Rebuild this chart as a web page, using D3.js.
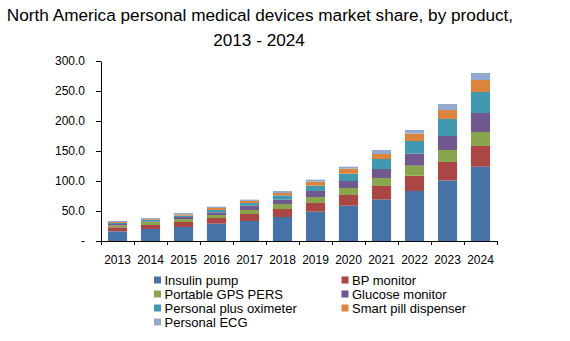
<!DOCTYPE html>
<html>
<head>
<meta charset="utf-8">
<script src="https://cdn.jsdelivr.net/npm/d3@7"></script>
<style>
  body { margin: 0; background: #fff; }
  svg { display: block; font-family: "Liberation Sans", Arial, sans-serif; }
</style>
</head>
<body>
<div id="chart"></div>
<script>
// Data
const years = ["2013", "2014", "2015", "2016", "2017", "2018", "2019", "2020", "2021", "2022", "2023", "2024"];
const products = ["Insulin pump", "BP monitor", "Portable GPS PERS", "Glucose monitor",
  "Personal plus oximeter", "Smart pill dispenser", "Personal ECG"];
const insulinPump = [16.1, 20.0, 23.3, 28.9, 33.3, 40.0, 48.9, 58.9, 69.4, 83.3, 101.1, 123.9];
const bpMonitor = [6.7, 6.7, 8.4, 9.4, 11.7, 13.3, 14.4, 17.8, 22.3, 25.6, 30.6, 34.4];
const gpsPers = [3.3, 5.0, 5.0, 5.0, 6.7, 8.4, 10.0, 11.6, 13.3, 16.7, 20.0, 23.4];
const glucoseMonitor = [2.2, 1.1, 3.3, 4.5, 7.2, 7.2, 10.0, 11.7, 15.0, 20.0, 23.3, 31.6];
const oximeter = [1.7, 2.7, 2.2, 3.9, 4.4, 7.2, 8.9, 12.2, 16.7, 21.1, 28.3, 35.0];
const pillDispenser = [1.7, 1.1, 2.2, 3.3, 3.4, 3.9, 6.7, 8.4, 8.3, 12.2, 15.0, 20.0];
const personalEcg = [1.6, 1.7, 2.3, 2.2, 2.2, 3.3, 3.3, 3.3, 6.7, 6.1, 10.0, 11.7];
const yTicks = [0, 50, 100, 150, 200, 250, 300];
const colors = ["#4572A7", "#AA4643", "#89A54E", "#71588F", "#4198AF", "#DB843D", "#93A9CF"];

const series = [insulinPump, bpMonitor, gpsPers, glucoseMonitor, oximeter, pillDispenser, personalEcg];
const rows = years.map((yr, i) => {
  const r = { year: yr };
  products.forEach((p, k) => { r[p] = series[k][i]; });
  return r;
});

const width = 570, height = 341;
const plot = { left: 101, right: 497, top: 61, bottom: 241 };

const svg = d3.select("#chart").append("svg")
  .attr("width", width)
  .attr("height", height);

// Title
const title = svg.append("text")
  .attr("text-anchor", "middle")
  .attr("font-size", "17.2px")
  .attr("fill", "#000");
title.append("tspan").attr("x", 260).attr("y", 21)
  .text("North America personal medical devices market share, by product,");
title.append("tspan").attr("x", 259).attr("y", 46).text("2013 - 2024");

// Scales
const x = d3.scaleBand()
  .domain(years)
  .range([plot.left, plot.right])
  .paddingInner(0.42)
  .paddingOuter(0.21);

const y = d3.scaleLinear()
  .domain([0, 300])
  .range([plot.bottom, plot.top]);

const color = d3.scaleOrdinal().domain(products).range(colors);

// Bars
const stacked = d3.stack().keys(products)(rows);
svg.append("g")
  .selectAll("g")
  .data(stacked)
  .join("g")
  .attr("fill", d => color(d.key))
  .selectAll("rect")
  .data(d => d)
  .join("rect")
  .attr("x", d => x(d.data.year))
  .attr("width", x.bandwidth())
  .attr("y", d => y(d[1]))
  .attr("height", d => y(d[0]) - y(d[1]));

// Y axis
const yAxis = svg.append("g")
  .attr("transform", `translate(${plot.left},0)`)
  .call(d3.axisLeft(y)
    .tickValues(yTicks)
    .tickSize(5)
    .tickSizeOuter(0)
    .tickPadding(11)
    .tickFormat(d => d === 0 ? "-" : d3.format(".1f")(d)));
yAxis.selectAll("text").attr("font-size", "12px").attr("fill", "#000")
  .attr("font-family", "Liberation Sans, Arial, sans-serif");
yAxis.selectAll("line, path").attr("stroke", "#000");

// X axis: labels under each band, ticks at band boundaries
const xAxis = svg.append("g")
  .attr("transform", `translate(0,${plot.bottom})`)
  .call(d3.axisBottom(x).tickSize(0).tickPadding(14).tickSizeOuter(0));
xAxis.selectAll("text").attr("font-size", "12px").attr("fill", "#000")
  .attr("font-family", "Liberation Sans, Arial, sans-serif");
xAxis.select("path").attr("stroke", "#000");

const edge = d3.scaleLinear().domain([0, years.length]).range([plot.left, plot.right]);
svg.append("g")
  .attr("transform", `translate(0,${plot.bottom})`)
  .call(d3.axisBottom(edge).ticks(years.length).tickSize(4).tickSizeOuter(0).tickFormat(""))
  .call(g => g.select("path").remove())
  .selectAll("line").attr("stroke", "#000");

// Legend
const legend = svg.append("g").attr("font-size", "13px");
products.forEach((p, i) => {
  const col = i % 2, row = Math.floor(i / 2);
  const gx = col === 0 ? 154 : 341.5;
  const gy = 280 + row * 14;
  legend.append("rect")
    .attr("x", gx).attr("y", gy - 3.5)
    .attr("width", 7).attr("height", 7)
    .attr("fill", color(p));
  legend.append("text")
    .attr("x", gx + 10.5).attr("y", gy)
    .attr("dy", "0.35em")
    .attr("fill", "#000")
    .text(p);
});
</script>
</body>
</html>
